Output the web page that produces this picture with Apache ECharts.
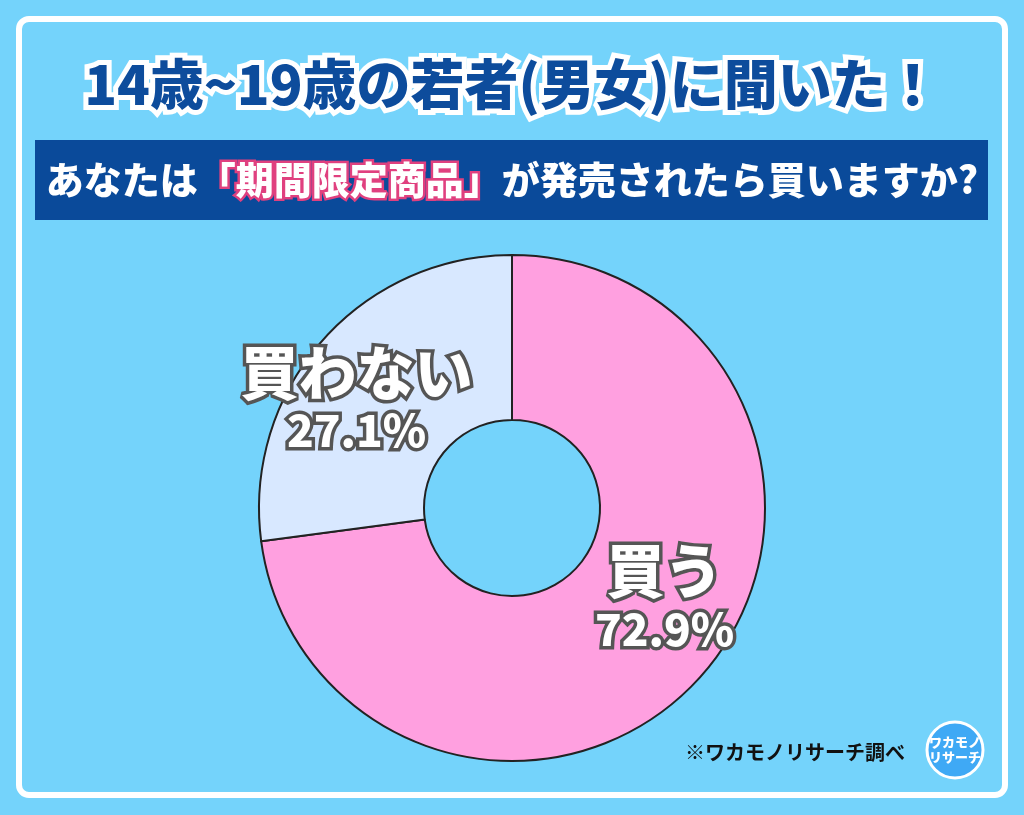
<!DOCTYPE html><html><head><meta charset="utf-8">
<script src="https://cdn.jsdelivr.net/npm/echarts@6/dist/echarts.min.js"></script>
<style>html,body{margin:0;padding:0;background:#74d3fb}#c{width:1024px;height:815px}</style></head><body><div id="c"></div>
<script>
const categories=['買う','買わない'];
const values=[72.9,27.1];
const colors=['#ffa0e0','#d8e8ff'];
const title='14歳~19歳の若者(男女)に聞いた！';
const source='※ワカモノリサーチ調べ';
const chart=echarts.init(document.getElementById('c'));
const F='"Noto Sans CJK JP"';
chart.setOption({
 backgroundColor:'#74d3fb',
 graphic:[
  {type:'rect',shape:{x:19,y:19,width:986,height:776,r:10},style:{fill:'none',stroke:'#fff',lineWidth:6}},
  {type:'text',left:'center',top:52,style:{text:title,font:'900 54px '+F,fill:'#0d4c9c',stroke:'#fff',lineWidth:10}},
  {type:'rect',shape:{x:35,y:140,width:953,height:80},style:{fill:'#0a4a9a'}},
  {type:'text',x:512,y:180,style:{align:'center',verticalAlign:'middle',rich:{w:{fontFamily:'Noto Sans CJK JP',fontWeight:900,fontSize:38,fill:'#fff'},p:{fontFamily:'Noto Sans CJK JP',fontWeight:900,fontSize:38,fill:'#fff',stroke:'#e0407f',lineWidth:5}},text:'{w|あなたは}{p|「期間限定商品」}{w|が発売されたら買いますか?}'}},
  {type:'text',x:905,y:752,style:{align:'right',verticalAlign:'middle',text:source,font:'bold 20px '+F,fill:'#111'}},
  {type:'circle',shape:{cx:955,cy:750,r:28},style:{fill:'#3fa9f5',stroke:'#fff',lineWidth:3}},
  {type:'text',x:955,y:750,style:{align:'center',verticalAlign:'middle',text:'ワカモノ\nリサーチ',font:'900 13px '+F,fill:'#fff',lineHeight:15}}
 ],
 series:[{type:'pie',center:[512,508],radius:[88,253],startAngle:90,clockwise:true,
  percentPrecision:1,
  itemStyle:{borderColor:'#222',borderWidth:2},
  emphasis:{disabled:true},
  label:{position:'inside',formatter:'{a|{b}}\n{b|{d}%}',
   rich:{a:{fontFamily:'Noto Sans CJK JP',fontWeight:900,fontSize:58,color:'#fff',textBorderColor:'#555',textBorderWidth:7,lineHeight:64},
         b:{fontFamily:'Noto Sans CJK JP',fontWeight:900,fontSize:44,color:'#fff',textBorderColor:'#555',textBorderWidth:7,lineHeight:52}}},
  data:categories.map((c,i)=>({name:c,value:values[i],itemStyle:{color:colors[i]},label:i===0?{offset:[22,-25]}:{offset:[-25,5]}}))
 }]
});
</script></body></html>
